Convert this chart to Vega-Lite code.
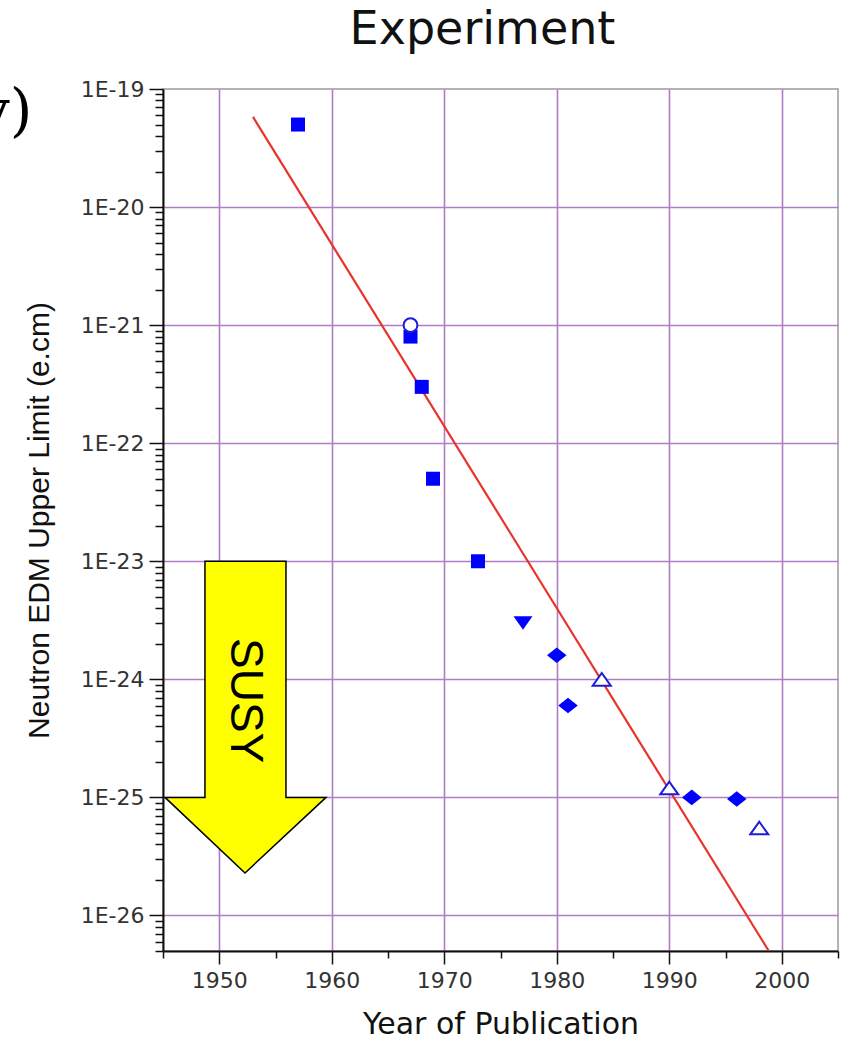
{
  "$schema": "https://vega.github.io/schema/vega-lite/v6.json",
  "width": 675,
  "height": 862,
  "autosize": {"type": "none"},
  "padding": {"left": 163, "top": 89, "right": 10, "bottom": 89},
  "background": "white",
  "config": {
    "view": {"stroke": "#9a9a9a", "strokeWidth": 1.5},
    "axis": {"domainColor": "#111", "domainWidth": 2, "tickColor": "#111", "tickWidth": 1.5, "gridColor": "#b07cc6", "gridWidth": 1.6, "labelColor": "#333", "titleColor": "#111", "titleFontWeight": "normal"}
  },
  "title": {"text": "Experiment", "font": "DejaVu Sans", "fontSize": 46, "fontWeight": "normal", "color": "#111", "anchor": "middle", "dx": -18, "baseline": "bottom", "offset": -22},
  "datasets": {
    "points": [
      {"year": 1957, "edm": 5e-20, "type": "square"},
      {"year": 1967, "edm": 1e-21, "type": "circle"},
      {"year": 1967, "edm": 8e-22, "type": "square"},
      {"year": 1968, "edm": 3e-22, "type": "square"},
      {"year": 1969, "edm": 5e-23, "type": "square"},
      {"year": 1973, "edm": 1e-23, "type": "square"},
      {"year": 1977, "edm": 3e-24, "type": "tri-down"},
      {"year": 1980, "edm": 1.6e-24, "type": "diamond"},
      {"year": 1981, "edm": 6e-25, "type": "diamond"},
      {"year": 1984, "edm": 1e-24, "type": "tri-up"},
      {"year": 1990, "edm": 1.2e-25, "type": "tri-up"},
      {"year": 1992, "edm": 1e-25, "type": "diamond"},
      {"year": 1996, "edm": 9.7e-26, "type": "diamond"},
      {"year": 1998, "edm": 5.5e-26, "type": "tri-up"}
    ],
    "fit": [
      {"year": 1953.0, "edm": 5.8e-20},
      {"year": 1998.85, "edm": 5e-27}
    ],
    "arrow": [
      {"i": 1, "year": 1948.73, "edm": 1e-23},
      {"i": 2, "year": 1955.93, "edm": 1e-23},
      {"i": 3, "year": 1955.93, "edm": 1e-25},
      {"i": 4, "year": 1959.49, "edm": 1e-25},
      {"i": 5, "year": 1952.29, "edm": 2.29e-26},
      {"i": 6, "year": 1945.18, "edm": 1e-25},
      {"i": 7, "year": 1948.73, "edm": 1e-25}
    ],
    "labels": [
      {"year": 1952.29, "edm": 6.6e-25, "label": "SUSY"}
    ],
    "corner": [
      {"year": 1933.4, "edm": 6.3e-20, "label": "y)"}
    ]
  },
  "layer": [
    {
      "data": {"name": "fit"},
      "mark": {"type": "line", "color": "#e8322c", "strokeWidth": 2.2, "clip": true},
      "encoding": {
        "x": {
          "field": "year", "type": "quantitative",
          "scale": {"domain": [1945, 2005], "nice": false, "zero": false},
          "axis": {
            "values": [1945, 1950, 1955, 1960, 1965, 1970, 1975, 1980, 1985, 1990, 1995, 2000, 2005],
            "labelExpr": "datum.value % 10 === 0 ? datum.value : ''",
            "tickSize": {"condition": {"test": "datum.value % 10 === 0", "value": 13}, "value": 7},
            "gridOpacity": {"condition": {"test": "datum.value % 10 === 0", "value": 1}, "value": 0},
            "labelFont": "DejaVu Sans", "labelFontSize": 22, "labelPadding": 6, "labelFlush": false,
            "title": "Year of Publication", "titleFont": "DejaVu Sans", "titleFontSize": 30, "titlePadding": 18
          }
        },
        "y": {
          "field": "edm", "type": "quantitative",
          "scale": {"type": "log", "domain": [5e-27, 1e-19], "nice": false},
          "axis": {
            "values": [1e-19, 9e-20, 8e-20, 7e-20, 6e-20, 5e-20, 4e-20, 3e-20, 2e-20,
                       1e-20, 9e-21, 8e-21, 7e-21, 6e-21, 5e-21, 4e-21, 3e-21, 2e-21,
                       1e-21, 9e-22, 8e-22, 7e-22, 6e-22, 5e-22, 4e-22, 3e-22, 2e-22,
                       1e-22, 9e-23, 8e-23, 7e-23, 6e-23, 5e-23, 4e-23, 3e-23, 2e-23,
                       1e-23, 9e-24, 8e-24, 7e-24, 6e-24, 5e-24, 4e-24, 3e-24, 2e-24,
                       1e-24, 9e-25, 8e-25, 7e-25, 6e-25, 5e-25, 4e-25, 3e-25, 2e-25,
                       1e-25, 9e-26, 8e-26, 7e-26, 6e-26, 5e-26, 4e-26, 3e-26, 2e-26,
                       1e-26, 9e-27, 8e-27, 7e-27, 6e-27, 5e-27],
            "labelExpr": "abs(log(datum.value)/LN10 - round(log(datum.value)/LN10)) < 0.001 ? '1E' + round(log(datum.value)/LN10) : ''",
            "tickSize": {"condition": {"test": "abs(log(datum.value)/LN10 - round(log(datum.value)/LN10)) < 0.001", "value": 14}, "value": 8},
            "gridOpacity": {"condition": {"test": "abs(log(datum.value)/LN10 - round(log(datum.value)/LN10)) < 0.001 && datum.value < 5e-20", "value": 1}, "value": 0},
            "labelFont": "DejaVu Sans", "labelFontSize": 22, "labelPadding": 5, "labelFlush": false, "labelOverlap": false,
            "title": "Neutron EDM Upper Limit (e.cm)", "titleFont": "Liberation Sans", "titleFontSize": 30, "titlePadding": 26
          }
        }
      }
    },
    {
      "data": {"name": "points"},
      "transform": [{"filter": "datum.type === 'square'"}],
      "mark": {"type": "point", "shape": "square", "size": 196, "filled": true, "color": "#0000ff", "opacity": 1},
      "encoding": {
        "x": {"field": "year", "type": "quantitative"},
        "y": {"field": "edm", "type": "quantitative"}
      }
    },
    {
      "data": {"name": "points"},
      "transform": [{"filter": "datum.type === 'circle'"}],
      "mark": {"type": "point", "shape": "circle", "size": 190, "filled": false, "fill": "#ffffff", "stroke": "#1c1cd8", "strokeWidth": 2, "opacity": 1},
      "encoding": {
        "x": {"field": "year", "type": "quantitative"},
        "y": {"field": "edm", "type": "quantitative"}
      }
    },
    {
      "data": {"name": "points"},
      "transform": [{"filter": "datum.type === 'tri-down'"}],
      "mark": {"type": "point", "shape": "M-1,-0.7L1,-0.7L0,0.7Z", "size": 360, "filled": true, "color": "#0000ff", "opacity": 1},
      "encoding": {
        "x": {"field": "year", "type": "quantitative"},
        "y": {"field": "edm", "type": "quantitative"}
      }
    },
    {
      "data": {"name": "points"},
      "transform": [{"filter": "datum.type === 'diamond'"}],
      "mark": {"type": "point", "shape": "M-1,0L0,-0.8L1,0L0,0.8Z", "size": 380, "filled": true, "color": "#0000ff", "opacity": 1},
      "encoding": {
        "x": {"field": "year", "type": "quantitative"},
        "y": {"field": "edm", "type": "quantitative"}
      }
    },
    {
      "data": {"name": "points"},
      "transform": [{"filter": "datum.type === 'tri-up'"}],
      "mark": {"type": "point", "shape": "M-1,0.7L1,0.7L0,-0.7Z", "size": 324, "filled": false, "fill": "#ffffff", "stroke": "#1c1cd8", "strokeWidth": 2, "opacity": 1},
      "encoding": {
        "x": {"field": "year", "type": "quantitative"},
        "y": {"field": "edm", "type": "quantitative"}
      }
    },
    {
      "data": {"name": "arrow"},
      "mark": {"type": "line", "interpolate": "linear-closed", "fill": "#ffff00", "stroke": "#000000", "strokeWidth": 1.5, "fillOpacity": 1},
      "encoding": {
        "x": {"field": "year", "type": "quantitative"},
        "y": {"field": "edm", "type": "quantitative"},
        "order": {"field": "i", "type": "quantitative"}
      }
    },
    {
      "data": {"name": "labels"},
      "mark": {"type": "text", "angle": 90, "align": "center", "baseline": "middle", "font": "Liberation Sans", "fontSize": 46, "color": "#000"},
      "encoding": {
        "x": {"field": "year", "type": "quantitative"},
        "y": {"field": "edm", "type": "quantitative"},
        "text": {"field": "label"}
      }
    },
    {
      "data": {"name": "corner"},
      "mark": {"type": "text", "align": "right", "baseline": "middle", "font": "DejaVu Serif", "fontSize": 58, "color": "#000"},
      "encoding": {
        "x": {"field": "year", "type": "quantitative"},
        "y": {"field": "edm", "type": "quantitative"},
        "text": {"field": "label"}
      }
    }
  ]
}
